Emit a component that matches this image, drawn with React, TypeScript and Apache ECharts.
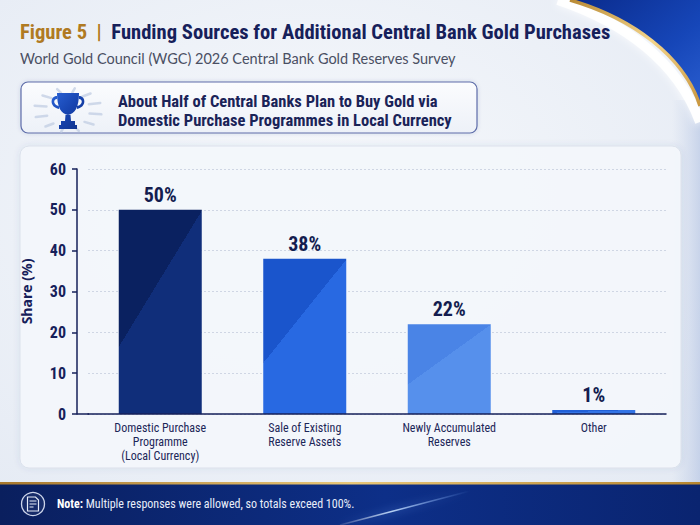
import React, { useEffect, useRef } from "react";
import * as echarts from "echarts";

const categories = [
  "Domestic Purchase\nProgramme\n(Local Currency)",
  "Sale of Existing\nReserve Assets",
  "Newly Accumulated\nReserves",
  "Other",
];
const shares = [50, 38, 22, 1];
const yTicks = { min: 0, max: 60, interval: 10 };

const titleLead = "Figure 5";
const titleMain = "Funding Sources for Additional Central Bank Gold Purchases";
const subtitle = "World Gold Council (WGC) 2026 Central Bank Gold Reserves Survey";
const calloutLines = [
  "About Half of Central Banks Plan to Buy Gold via",
  "Domestic Purchase Programmes in Local Currency",
];
const noteLead = "Note:";
const noteText = " Multiple responses were allowed, so totals exceed 100%.";

const NARROW = "Roboto Condensed";
const SANS = "Open Sans";
const NAVY = "#16205a";

const barColors = [
  ["#0a2160", "#102e7a"],
  ["#1a55cc", "#2869e2"],
  ["#4a84e6", "#5690ec"],
  ["#2160d8", "#3374e6"],
];

let registered = false;
function registerShapes() {
  if (registered) return;
  registered = true;
  echarts.graphic.registerShape(
    "swooshFill",
    echarts.graphic.extendPath("M570 0 C632 18 684 56 700 106 L700 0 Z", {})
  );
  echarts.graphic.registerShape(
    "swooshLine",
    echarts.graphic.extendPath("M570 0 C632 18 684 56 700 106", {})
  );
  echarts.graphic.registerShape(
    "swooshGlow",
    echarts.graphic.extendPath("M558 0 C624 22 678 62 700 122", {})
  );
  echarts.graphic.registerShape(
    "trophy",
    echarts.graphic.extendPath(
      "M9 2 H31 C31 16 27 23 20 24 C13 23 9 16 9 2 Z " +
        "M9 5 C2 5 1 16 11 18 L11 15 C5 14 5 8 9 8 Z " +
        "M31 5 C38 5 39 16 29 18 L29 15 C35 14 35 8 31 8 Z " +
        "M17.5 24 H22.5 L23 30 H17 Z " +
        "M13 30 H27 V34 H13 Z M11 34 H29 V38 H11 Z",
      {}
    )
  );
  echarts.graphic.registerShape(
    "docIcon",
    echarts.graphic.extendPath(
      "M0 0 H8 L11 3 V14 H0 Z M2 4 H9 M2 7 H9 M2 10 H6",
      {}
    )
  );
}

export default function App() {
  const ref = useRef<HTMLDivElement>(null);

  useEffect(() => {
    if (!ref.current) return;
    registerShapes();
    const chart = echarts.init(ref.current, undefined, { renderer: "svg" });

    const rays: any[] = [];
    const cx = 68, cy = 110;
    for (let i = 0; i < 12; i++) {
      const a = (i / 12) * Math.PI * 2 + 0.2;
      rays.push({
        type: "line",
        silent: true,
        shape: {
          x1: cx + Math.cos(a) * 22,
          y1: cy + Math.sin(a) * 18,
          x2: cx + Math.cos(a) * 34,
          y2: cy + Math.sin(a) * 22,
        },
        style: { stroke: "rgba(190,202,225,0.7)", lineWidth: 2.5, lineCap: "round" },
        z: 1,
      });
    }

    const option: any = {
      animation: false,
      backgroundColor: "transparent",
      grid: { left: 88, right: 34, top: 169, bottom: 111, containLabel: false },
      xAxis: {
        type: "category",
        data: categories,
        axisLine: { show: true, lineStyle: { color: NAVY, width: 1.5 } },
        axisTick: { show: false },
        axisLabel: {
          color: "#1c2658",
          fontFamily: NARROW,
          fontSize: 12,
          lineHeight: 14,
          margin: 7,
          interval: 0,
        },
        z: 5,
      },
      yAxis: {
        type: "value",
        min: yTicks.min,
        max: yTicks.max,
        interval: yTicks.interval,
        offset: 11,
        name: "Share (%)",
        nameLocation: "middle",
        nameGap: 44,
        nameTextStyle: { color: NAVY, fontFamily: SANS, fontSize: 14, fontWeight: "bold" },
        axisLine: { show: true, lineStyle: { color: NAVY, width: 1.5 } },
        axisTick: { show: true, length: 5, lineStyle: { color: NAVY, width: 1.5 } },
        axisLabel: {
          color: NAVY,
          fontFamily: NARROW,
          fontSize: 16,
          fontWeight: "bold",
          margin: 11,
        },
        splitLine: { show: true, lineStyle: { color: "#cfd6e4", type: [2, 2], width: 1 } },
      },
      series: [
        {
          type: "bar",
          barWidth: 83,
          data: shares.map((v, i) => ({
            value: v,
            itemStyle: {
              color: new echarts.graphic.LinearGradient(0, 0, 1, 1.5, [
                { offset: 0, color: barColors[i][0] },
                { offset: 0.31, color: barColors[i][0] },
                { offset: 0.31, color: barColors[i][1] },
                { offset: 1, color: barColors[i][1] },
              ]),
            },
          })),
          label: {
            show: true,
            position: "top",
            distance: 5,
            formatter: "{c}%",
            color: "#141d4f",
            fontFamily: NARROW,
            fontSize: 20,
            fontWeight: "bold",
          },
          z: 3,
        },
      ],
      graphic: [
        {
          type: "rect",
          silent: true,
          z: -20,
          shape: { x: 0, y: 0, width: 700, height: 525 },
          style: {
            fill: new echarts.graphic.RadialGradient(0.45, 0.4, 0.8, [
              { offset: 0, color: "#f7f9fc" },
              { offset: 1, color: "#e3e9f3" },
            ]),
          },
        },
        {
          type: "rect",
          silent: true,
          z: -19,
          shape: { x: 672, y: 100, width: 28, height: 383 },
          style: {
            fill: new echarts.graphic.LinearGradient(0, 0, 1, 0, [
              { offset: 0, color: "rgba(180,195,225,0)" },
              { offset: 1, color: "rgba(160,180,220,0.45)" },
            ]),
          },
        },
        {
          type: "swooshGlow",
          silent: true,
          z: -18,
          x: 0,
          y: 0,
          style: { fill: null, stroke: "rgba(255,255,255,0.95)", lineWidth: 10, shadowBlur: 8, shadowColor: "rgba(255,255,255,0.9)" },
        },
        {
          type: "swooshFill",
          silent: true,
          z: -17,
          x: 0,
          y: 0,
          style: {
            fill: new echarts.graphic.LinearGradient(0, 0, 1, 1, [
              { offset: 0, color: "#0a2b8c" },
              { offset: 0.6, color: "#1646b8" },
              { offset: 1, color: "#2a5ed0" },
            ]),
          },
        },
        {
          type: "swooshLine",
          silent: true,
          z: -16,
          x: 0,
          y: 0,
          style: {
            fill: null,
            lineWidth: 3.5,
            stroke: new echarts.graphic.LinearGradient(0, 0, 1, 1, [
              { offset: 0, color: "#b98a35" },
              { offset: 0.5, color: "#f3d48a" },
              { offset: 1, color: "#c9963e" },
            ]),
          },
        },
        {
          type: "text",
          silent: true,
          x: 20,
          y: 32,
          style: {
            text: `{a|${titleLead}}{s|  |  }{b|${titleMain}}`,
            verticalAlign: "middle",
            rich: {
              a: { fontFamily: NARROW, fontSize: 20.6, fontWeight: "bold", fill: "#b07a22" },
              s: { fontFamily: NARROW, fontSize: 20.6, fontWeight: "bold", fill: "#b07a22" },
              b: { fontFamily: NARROW, fontSize: 20.6, fontWeight: "bold", fill: NAVY },
            },
          },
        },
        {
          type: "text",
          silent: true,
          x: 20,
          y: 58,
          style: {
            text: subtitle,
            fontFamily: "Lato",
            fontSize: 14.5,
            fill: "#4a4f63",
            verticalAlign: "middle",
          },
        },
        {
          type: "rect",
          silent: true,
          z: 0,
          shape: { x: 21, y: 82, width: 456, height: 51, r: 7 },
          style: {
            fill: new echarts.graphic.LinearGradient(0, 0, 0, 1, [
              { offset: 0, color: "#fbfcfe" },
              { offset: 1, color: "#edf1f8" },
            ]),
            stroke: "#5e6daa",
            lineWidth: 1.2,
            shadowBlur: 4,
            shadowColor: "rgba(40,60,120,0.15)",
          },
        },
        ...rays,
        {
          type: "trophy",
          silent: true,
          z: 2,
          x: 48,
          y: 91,
          style: {
            fill: new echarts.graphic.LinearGradient(0, 0, 1, 1, [
              { offset: 0, color: "#2a62d6" },
              { offset: 0.5, color: "#1744b0" },
              { offset: 1, color: "#0e2f86" },
            ]),
          },
        },
        {
          type: "text",
          silent: true,
          x: 118,
          y: 101,
          style: {
            text: calloutLines[0],
            fontFamily: NARROW,
            fontSize: 16.5,
            fontWeight: "bold",
            fill: "#1a2358",
            verticalAlign: "middle",
          },
        },
        {
          type: "text",
          silent: true,
          x: 118,
          y: 120,
          style: {
            text: calloutLines[1],
            fontFamily: NARROW,
            fontSize: 16.5,
            fontWeight: "bold",
            fill: "#1a2358",
            verticalAlign: "middle",
          },
        },
        {
          type: "rect",
          silent: true,
          z: -5,
          shape: { x: 20, y: 146, width: 661, height: 322, r: 9 },
          style: {
            fill: "rgba(244,247,252,0.92)",
            stroke: "#dbe1ec",
            lineWidth: 1,
            shadowBlur: 6,
            shadowColor: "rgba(60,80,130,0.10)",
          },
        },
        {
          type: "line",
          silent: true,
          z: 6,
          shape: { x1: 77, y1: 414, x2: 89, y2: 414 },
          style: { stroke: NAVY, lineWidth: 1.5 },
        },
        {
          type: "rect",
          silent: true,
          z: 0,
          shape: { x: 0, y: 483, width: 700, height: 42 },
          style: {
            fill: new echarts.graphic.LinearGradient(0, 0, 1, 0, [
              { offset: 0, color: "#0a1f5e" },
              { offset: 0.55, color: "#0d2f88" },
              { offset: 1, color: "#0a2470" },
            ]),
          },
        },
        {
          type: "line",
          silent: true,
          z: 1,
          shape: { x1: 340, y1: 525, x2: 470, y2: 491 },
          style: {
            stroke: new echarts.graphic.LinearGradient(0, 0, 1, 0, [
              { offset: 0, color: "rgba(255,255,255,0.1)" },
              { offset: 0.4, color: "rgba(200,225,255,0.9)" },
              { offset: 1, color: "rgba(120,170,255,0)" },
            ]),
            lineWidth: 1.5,
            shadowBlur: 8,
            shadowColor: "rgba(120,170,255,0.8)",
          },
        },
        {
          type: "rect",
          silent: true,
          z: 2,
          shape: { x: 0, y: 482, width: 700, height: 2.5 },
          style: {
            fill: new echarts.graphic.LinearGradient(0, 0, 1, 0, [
              { offset: 0, color: "#a8782c" },
              { offset: 0.5, color: "#e8c77a" },
              { offset: 1, color: "#b7862f" },
            ]),
          },
        },
        {
          type: "circle",
          silent: true,
          z: 2,
          shape: { cx: 33, cy: 504, r: 11.5 },
          style: { fill: "rgba(255,255,255,0.05)", stroke: "rgba(225,232,248,0.9)", lineWidth: 1.3 },
        },
        {
          type: "docIcon",
          silent: true,
          z: 3,
          x: 27.5,
          y: 497,
          style: { fill: null, stroke: "#e6ecf8", lineWidth: 1.2 },
        },
        {
          type: "text",
          silent: true,
          z: 3,
          x: 57,
          y: 504,
          style: {
            text: `{a|${noteLead}}{b|${noteText}}`,
            verticalAlign: "middle",
            rich: {
              a: { fontFamily: NARROW, fontSize: 12, fontWeight: "bold", fill: "#ffffff" },
              b: { fontFamily: NARROW, fontSize: 12, fill: "#e8eefa" },
            },
          },
        },
      ],
    };

    chart.setOption(option);
    return () => chart.dispose();
  }, []);

  return (
    <div
      ref={ref}
      style={{ position: "absolute", left: 0, top: 0, width: 700, height: 525 }}
    />
  );
}
